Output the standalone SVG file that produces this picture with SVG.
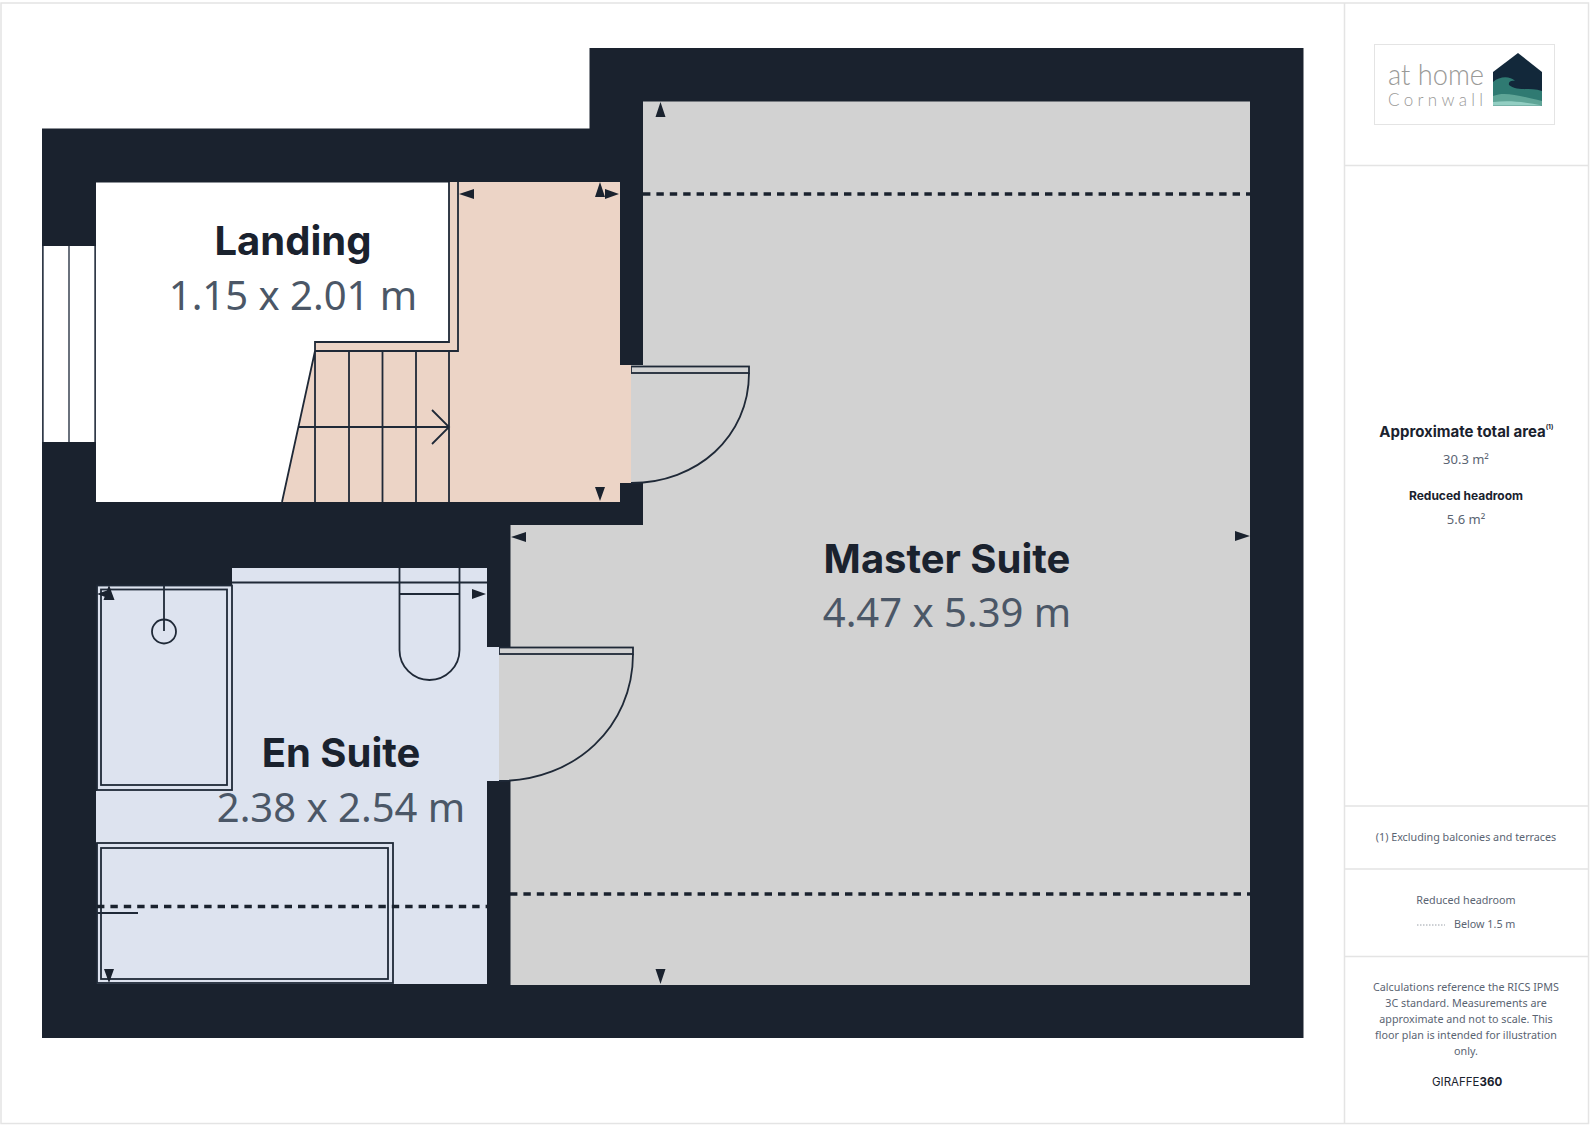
<svg xmlns="http://www.w3.org/2000/svg" width="1590" height="1127" viewBox="0 0 1590 1127">
<style>
.ln{fill:none;stroke:#1f2937;stroke-width:1.800}
.a{fill:#1a222e}
.d{fill:none;stroke:#1a222e;stroke-width:3.500;stroke-dasharray:7.400 6}
.t{font-family:Inter,"Liberation Sans",sans-serif;font-weight:700;font-size:40px;fill:#1a222e;text-anchor:middle}
.s{font-family:"Noto Sans","Open Sans",sans-serif;font-size:40px;fill:#4b5767;text-anchor:middle}
.p{font-family:"Noto Sans","Open Sans",sans-serif;font-size:10.750px;fill:#5a6472;text-anchor:middle}
.b{font-family:Inter,"Liberation Sans",sans-serif;font-weight:700;fill:#1a222e;text-anchor:middle}
.r{fill:none;stroke:#e4e4e4;stroke-width:1.500}
</style>
<rect width="1590" height="1127" fill="#fff"/>
<g id="frame">
<rect class="r" x="1" y="3" width="1587.500" height="1120.500"/>
<path class="r" d="M1344.500 3V1123M1344.500 165.500H1588M1344.500 806H1588M1344.500 869H1588M1344.500 956.500H1588"/>
</g>
<g id="walls">
<path fill="#1a222e" d="M589.500 48H1303.500V1038H42V128.500H589.500Z"/>
</g>
<g id="master-suite">
<path fill="#d2d2d2" d="M643 101.500H1250V985H510.500V781H499V647H510.500V525H643V483H631V365H643Z"/>
<path class="d" d="M643 194H1250M510 894H1250"/>
<path class="a" d="M660.500 102l5 15h-10zM1250 536l-15 5v-10zM660.500 984l-5-15h10zM511 537l15-5v10z"/>
<rect x="631" y="366.500" width="118" height="6.500" class="ln"/>
<path class="ln" d="M749 373C749 437 697 483 631 483"/>
<rect x="499" y="647.500" width="134" height="6.500" class="ln"/>
<path class="ln" d="M633 654C633 727 575 781 499 781"/>
<text class="t" x="947" y="573">Master Suite</text>
<text class="s" x="947" y="627">4.47 x 5.39 m</text>
</g>
<g id="landing">
<rect x="96" y="182.500" width="354" height="319.500" fill="#fff"/>
<path fill="#ecd4c6" d="M449 182H620V365H631V483H620V502H282L315 351V342H449Z"/>
<path class="ln" d="M449 182V342H315V502M458 182V351H315M449 351V502M349 351V502M382.500 351V502M416 351V502M315 351L282 502M298 427H449M432 410L449 427L432 444"/>
<path class="a" d="M459 194l15-5v10zM600 182l5 15h-10zM619 194l-14 5v-10zM600 501l-5-14h10z"/>
<text class="t" x="293" y="255">Landing</text>
<text class="s" x="293" y="309.500">1.15 x 2.01 m</text>
<g id="window">
<rect x="43" y="246" width="52" height="196" fill="#fff"/>
<path fill="none" stroke="#3a4352" stroke-width="1.500" d="M43 246V442M69 246V442M95 246V442"/>
</g>
</g>
<g id="en-suite">
<path fill="#dde3ef" d="M232 568H487V647H499V781H487V984H97V843H96V791H97V585H232Z"/>
<rect class="ln" x="97" y="585.500" width="135" height="204.500"/>
<rect class="ln" x="101" y="589.500" width="126" height="195.500"/>
<circle class="ln" cx="164" cy="631.500" r="12"/>
<path class="ln" d="M164 585V631M232 582.500H487M399.500 568V650A30 30 0 0 0 459.500 650V568M399.500 594H459.500"/>
<rect class="ln" x="97" y="843" width="296" height="140"/>
<rect class="ln" x="101" y="848" width="287" height="131"/>
<path class="ln" d="M97 913H138"/>
<path class="d" d="M97 906.500H487"/>
<path class="a" d="M109 585l5.500 15h-11zM97 594l14-5v10zM109 983l-5-14h10zM486 594l-14-5v10z"/>
<text class="t" x="341" y="767">En Suite</text>
<text class="s" x="341" y="822">2.38 x 2.54 m</text>
</g>
<g id="logo">
<rect x="1374.500" y="44.500" width="180" height="80" fill="#fff" stroke="#e4e4e4"/>
<text x="1388" y="85" font-family="Lato,sans-serif" font-weight="300" font-size="30" fill="#9a9a98" textLength="96" lengthAdjust="spacingAndGlyphs">at home</text>
<text x="1388" y="106" font-family="Lato,sans-serif" font-weight="300" font-size="17" fill="#9a9a98" textLength="95">Cornwall</text>
<path fill="#12283a" d="M1493 72L1518 53L1542 72V105.500H1493Z"/>
<path fill="#2f7a72" d="M1493 82C1500 76 1510 76 1515 81C1512 80 1508 81 1509 85C1518 92 1530 87 1542 91V105.500H1493Z"/>
<path fill="#5fa597" d="M1493 96C1505 91 1520 96 1542 101V105.500H1493Z"/>
<path fill="#93cfc3" d="M1493 102C1510 100 1525 102 1542 105.500H1493Z"/>
</g>
<g id="side-panel">
<text class="b" font-size="15" x="1462.500" y="437">Approximate total area</text>
<text class="b" font-size="6.500" x="1549.500" y="429">(1)</text>
<text class="p" style="font-size:13px" x="1466" y="464">30.3 m²</text>
<text class="b" font-size="12" x="1466" y="500">Reduced headroom</text>
<text class="p" style="font-size:13px" x="1466" y="524">5.6 m²</text>
<text class="p" x="1466" y="841">(1) Excluding balconies and terraces</text>
<text class="p" x="1466" y="904">Reduced headroom</text>
<path d="M1417 925H1445" stroke="#9aa0a8" stroke-width="1" stroke-dasharray="1.500 1.500"/>
<text class="p" x="1454" y="928" style="text-anchor:start">Below 1.5 m</text>
<text class="p" x="1466" y="991">Calculations reference the RICS IPMS</text>
<text class="p" x="1466" y="1007">3C standard. Measurements are</text>
<text class="p" x="1466" y="1023">approximate and not to scale. This</text>
<text class="p" x="1466" y="1039">floor plan is intended for illustration</text>
<text class="p" x="1466" y="1055">only.</text>
<text x="1432" y="1086" font-family="Inter,sans-serif" font-size="11.500" fill="#1a222e">GIRAFFE<tspan font-weight="700">360</tspan></text>
</g>
</svg>
